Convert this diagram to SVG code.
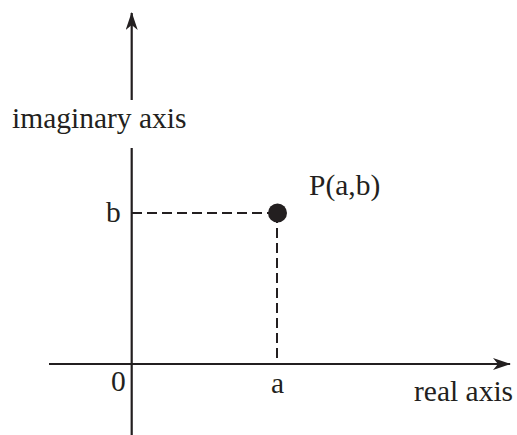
<svg xmlns="http://www.w3.org/2000/svg" width="517" height="435" viewBox="0 0 517 435">
<style>
.ax{stroke:#231f20;stroke-width:2.2;fill:none}
.dash{stroke:#231f20;stroke-width:2;fill:none;stroke-dasharray:10 5}
text{font-family:"Liberation Serif","Times New Roman",serif;font-size:29.5px;fill:#231f20}
</style>
<defs>
<marker id="arr" viewBox="0 0 18 12" refX="17" refY="6" markerWidth="18" markerHeight="12" markerUnits="userSpaceOnUse" orient="auto">
<path d="M0,0 L18,6 L0,12 L5,6 Z" fill="#231f20"/>
</marker>
</defs>
<g id="connectors">
<line class="ax" x1="131.7" y1="100" x2="131.7" y2="13" marker-end="url(#arr)"/>
<line class="ax" x1="131.7" y1="148" x2="131.7" y2="435"/>
<line class="ax" x1="49" y1="364" x2="510" y2="364" marker-end="url(#arr)"/>
<line class="dash" x1="132" y1="213" x2="272" y2="213"/>
<line class="dash" x1="277" y1="213" x2="277" y2="364"/>
</g>
<g id="point"><circle cx="277.5" cy="213" r="9.5" fill="#231f20"/></g>
<g id="labels">
<text x="12" y="128">imaginary axis</text>
<text x="106" y="222">b</text>
<text x="309" y="195">P(a,b)</text>
<text x="111" y="391">0</text>
<text x="271" y="393">a</text>
<text x="414" y="401">real axis</text>
</g>
</svg>
